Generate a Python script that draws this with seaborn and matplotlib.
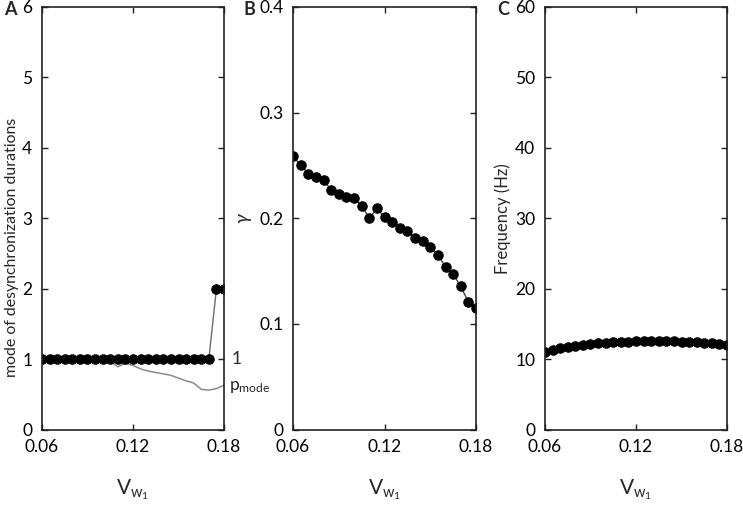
import numpy as np
import pandas as pd
import matplotlib
matplotlib.use('Agg')
import matplotlib.pyplot as plt
import matplotlib.transforms as mtransforms
import seaborn as sns

# x values shared by all three panels
vw1 = [0.06, 0.065, 0.07, 0.075, 0.08, 0.085, 0.09, 0.095, 0.10, 0.105,
       0.11, 0.115, 0.12, 0.125, 0.13, 0.135, 0.14, 0.145, 0.15, 0.155,
       0.16, 0.165, 0.17, 0.175, 0.18]

# panel A
mode_dur = [1, 1, 1, 1, 1, 1, 1, 1, 1, 1, 1, 1, 1, 1, 1, 1, 1, 1, 1, 1,
            1, 1, 1, 2, 2]
p_mode = [1.0, 1.0, 1.0, 1.0, 1.0, 1.0, 1.0, 1.0, 1.0, 0.97,
          0.89, 0.94, 0.91, 0.86, 0.83, 0.81, 0.79, 0.77, 0.73, 0.69,
          0.66, 0.57, 0.56, 0.58, 0.63]

# panel B
gamma = [0.2585, 0.2503, 0.2421, 0.2386, 0.2361, 0.2266, 0.2231, 0.2199,
         0.2187, 0.2120, 0.2000, 0.2092, 0.2009, 0.1965, 0.1908, 0.1877,
         0.1813, 0.1788, 0.1728, 0.1652, 0.1541, 0.1472, 0.1354, 0.1206,
         0.1152]

# panel C
freq = [10.95, 11.3, 11.55, 11.75, 11.9, 12.05, 12.15, 12.25, 12.32, 12.38,
        12.43, 12.47, 12.5, 12.52, 12.53, 12.53, 12.52, 12.5, 12.47, 12.43,
        12.38, 12.32, 12.25, 12.15, 12.05]

df = pd.DataFrame({'vw1': vw1, 'mode': mode_dur, 'pmode': p_mode,
                   'gamma': gamma, 'freq': freq})

sns.set_style('ticks')
plt.rcParams['font.family'] = ['Lato', 'DejaVu Sans']
plt.rcParams['mathtext.fontset'] = 'custom'
plt.rcParams['mathtext.rm'] = 'Lato'
plt.rcParams['mathtext.it'] = 'Lato:italic'

fig = plt.figure(figsize=(7.43, 5.16), dpi=100)
bottom, height = 0.1676, 0.819
axA = fig.add_axes([0.0565, bottom, 0.245, height])
axB = fig.add_axes([0.3944, bottom, 0.2463, height])
axC = fig.add_axes([0.7335, bottom, 0.2450, height])

dot = dict(marker='o', markersize=6.8, markerfacecolor='black',
           markeredgecolor='black')

# A
sns.lineplot(data=df, x='vw1', y='pmode', ax=axA, color='#8a8a8a', lw=1.1)
sns.lineplot(data=df, x='vw1', y='mode', ax=axA, color='#6a6a6a', lw=1.0, **dot)
axA.set_ylim(0, 6)
axA.set_yticks([0, 1, 2, 3, 4, 5, 6])
axA.set_ylabel('mode of desynchronization durations', fontsize=11.4)
axA.yaxis.set_label_coords(-0.125, 0.43)
trA = mtransforms.blended_transform_factory(axA.transAxes, axA.transData)
axA.text(1.04, 1, '1', transform=trA, fontsize=12.5, va='center', ha='left')
axA.text(1.03, 0.6, r'p$_{\mathrm{mode}}$', transform=trA, fontsize=12.5,
         va='center', ha='left')

# B
sns.lineplot(data=df, x='vw1', y='gamma', ax=axB, color='#333333', lw=0.9, **dot)
axB.set_ylim(0, 0.4)
axB.set_yticks([0, 0.1, 0.2, 0.3, 0.4])
axB.set_yticklabels(['0', '0.1', '0.2', '0.3', '0.4'])
axB.set_ylabel(r'$\gamma$', fontsize=14, labelpad=4)

# C
sns.lineplot(data=df, x='vw1', y='freq', ax=axC, color='#333333', lw=0.9, **dot)
axC.set_ylim(0, 60)
axC.set_yticks([0, 10, 20, 30, 40, 50, 60])
axC.set_ylabel('Frequency (Hz)', fontsize=12, labelpad=3)

label_x = {'A': -0.176, 'B': -0.24, 'C': -0.228}
for ax, lab in zip([axA, axB, axC], ['A', 'B', 'C']):
    ax.set_xlim(0.06, 0.18)
    ax.set_xticks([0.06, 0.12, 0.18])
    ax.set_xticklabels(['0.06', '0.12', '0.18'])
    ax.set_xlabel(r'V$_{\mathrm{w}_{\mathrm{1}}}$', fontsize=15, labelpad=16)
    ax.tick_params(direction='in', top=True, right=True, length=4,
                   width=1, labelsize=12.5, pad=7, colors='#222222',
                   labelcolor='black')
    for s in ax.spines.values():
        s.set_linewidth(1.2)
        s.set_color('#222222')
    ax.text(label_x[lab], 0.993, lab, transform=ax.transAxes, fontsize=13,
            fontweight='bold', va='center', ha='center')
    ax.grid(False)

fig.savefig('out.png', dpi=100)
